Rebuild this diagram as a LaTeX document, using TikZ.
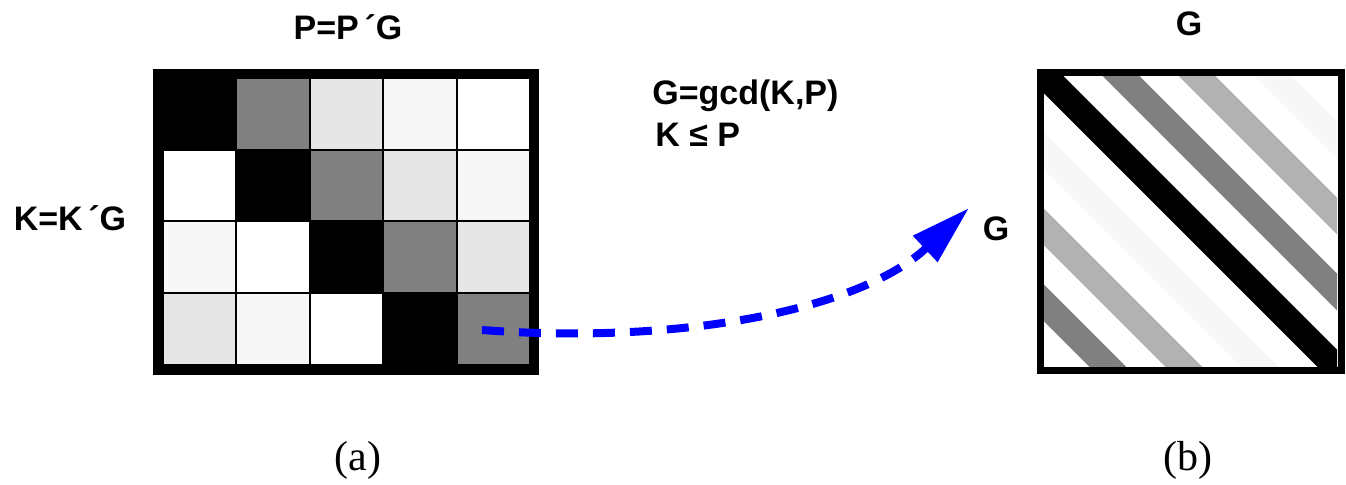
\documentclass[tikz,border=0pt]{standalone}
\usepackage{fontspec}
\setmainfont{Liberation Serif}
\setsansfont{Liberation Sans}
\usetikzlibrary{arrows.meta}
\definecolor{cell0}{RGB}{0,0,0}
\definecolor{cell1}{RGB}{128,128,128}
\definecolor{cell2}{RGB}{230,230,230}
\definecolor{cell3}{RGB}{247,247,247}
\definecolor{cell4}{RGB}{255,255,255}
\definecolor{stripe}{RGB}{178,178,178}
\definecolor{arrowblue}{RGB}{0,0,255}

\begin{document}
\begin{tikzpicture}[x=0.5pt, y=-0.5pt,
        lbl/.style={font=\sffamily\bfseries\fontsize{17}{20}\selectfont, inner sep=0pt},
        captext/.style={font=\fontsize{21}{24}\selectfont, inner sep=0pt}]
                \useasboundingbox (0,0) rectangle (1346,485);

                % Matrix (a)
                \fill[black] (153,69) rectangle (539,375);
                \foreach \r in {0,...,3}
                    \foreach \c in {0,...,4} {
                        \pgfmathtruncatemacro\k{mod(\c-\r+5,5)}
                        \fill[cell\k] ({163+73.4*\c+1},{78+71.75*\r+1})
                            rectangle ({163+73.4*(\c+1)-1},{78+71.75*(\r+1)-1});
                    }

                % Matrix (b)
                \fill[white] (1044,77) rectangle (1337,367);
                \begin{scope}
                    \clip (1044,77) rectangle (1337,367);
                    \foreach \d/\col in {2/black, 78/cell1, 154/stripe, 230/cell3,
                                         -74/cell3, -150/stripe, -226/cell1}
                        \draw[\col, line width=13pt] ({967+\d},0) -- ({1417+\d},450);
                \end{scope}
                \draw[black, line width=3.5pt] (1040.5,73) rectangle (1341.5,371);

                % Nodes
                \node[lbl] (ptop) at (348,27) {P=P\,´G};
                \node[lbl] (kleft) at (70,218) {K=K\,´G};
                \node[lbl, anchor=west] (gcd) at (652,96) {G=gcd(K,P)};
                \node[lbl, anchor=west] (kp) at (655,135) {K ≤ P};
                \node[lbl] (gright) at (996,229) {G};
                \node[lbl] (gtop) at (1189,24) {G};
                \node[captext] (capa) at (358,460) {(a)};
                \node[captext] (capb) at (1188,460) {(b)};

                % Edges
                \coordinate (src) at (482,330);
                \coordinate (dst) at (969,208);
                \draw[arrowblue, line width=4pt, dash pattern=on 11pt off 7.5pt,
                      -{Triangle[length=30pt, width=17pt]}]
                    (src) .. controls (680,345) and (860,310) .. (dst);
            \end{tikzpicture}
\end{document}
